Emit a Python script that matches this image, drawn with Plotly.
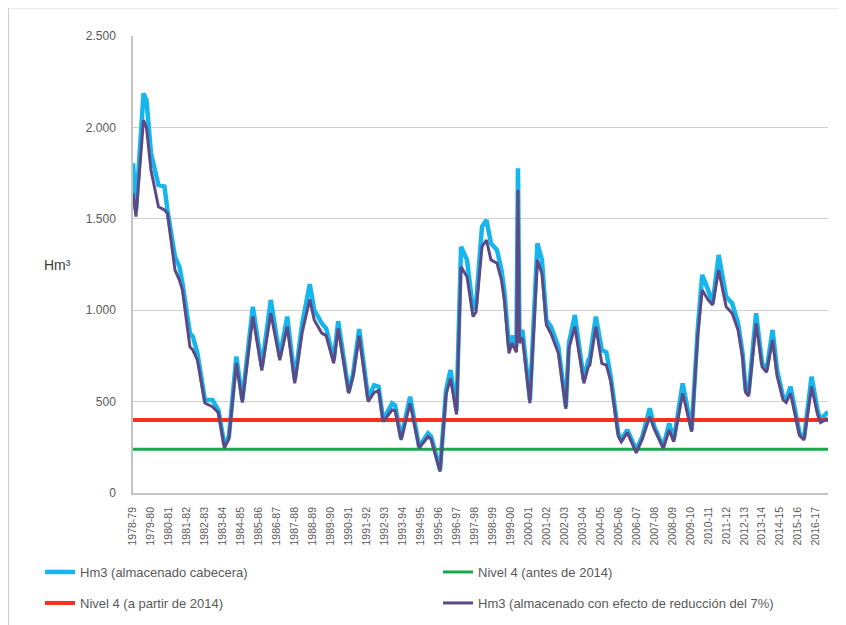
import plotly.graph_objects as go

# Hydrological-year labels (one per 12 months)
year_labels = ["1978-79", "1979-80", "1980-81", "1981-82", "1982-83", "1983-84", "1984-85",
               "1985-86", "1986-87", "1987-88", "1988-89", "1989-90", "1990-91", "1991-92",
               "1992-93", "1993-94", "1994-95", "1995-96", "1996-97", "1997-98", "1998-99",
               "1999-00", "2000-01", "2001-02", "2002-03", "2003-04", "2004-05", "2005-06",
               "2006-07", "2007-08", "2008-09", "2009-10", "2010-11", "2011-12", "2012-13",
               "2013-14", "2014-15", "2015-16", "2016-17"]

# Month index since start of 1978-79
months = [0, 2, 7, 9, 12, 17, 21, 23, 28, 31, 33, 38, 40, 43, 48, 53, 57, 61, 64, 69,
          73, 80, 86, 92, 98, 103, 108, 113, 118, 121, 126, 129, 134, 137, 144, 147, 151, 157, 161, 164,
          167, 173, 175, 179, 185, 191, 197, 199, 205, 209, 212, 216, 219, 223, 227, 229, 233, 236, 239, 243,
          246, 248, 251, 253, 256, 257, 258, 260, 265, 270, 273, 276, 279, 284, 289, 291, 295, 301, 304, 305,
          309, 313, 316, 319, 324, 326, 330, 336, 340, 345, 348, 354, 358, 361, 367, 373, 377, 380, 384, 387,
          391, 396, 400, 404, 407, 409, 411, 416, 420, 423, 427, 430, 434, 436, 439, 443, 445, 448, 453, 457,
          459, 464]

# Hm3 (almacenado cabecera)
hm3_cabecera = [1804, 1548, 2186, 2150, 1860, 1685, 1676, 1548, 1293, 1238, 1148, 875, 855, 766, 509, 509, 454, 265, 308, 746,
                509, 1019, 691, 1056, 746, 965, 618, 929, 1143, 1001, 929, 900, 727, 940, 554, 655, 897, 518, 590, 582,
                399, 491, 480, 299, 527, 253, 327, 310, 126, 563, 673, 450, 1347, 1275, 1001, 1030, 1457, 1493, 1366, 1329,
                1220, 1100, 800, 860, 800, 1776, 855, 892, 509, 1366, 1275, 946, 910, 800, 472, 819, 974, 618, 727, 740,
                965, 782, 770, 636, 327, 290, 345, 235, 308, 463, 363, 253, 381, 290, 600, 345, 892, 1193, 1110, 1038,
                1302, 1074, 1038, 928, 764, 563, 545, 983, 709, 673, 892, 673, 527, 509, 582, 418, 327, 299, 636, 454,
                399, 445]

# Hm3 (almacenado con efecto de reducción del 7%)
hm3_reduccion = [1641, 1512, 2040, 2000, 1767, 1566, 1548, 1530, 1220, 1165, 1110, 800, 782, 727, 492, 472, 440, 246, 295, 711,
                 495, 965, 670, 984, 727, 910, 600, 880, 1060, 946, 875, 860, 709, 900, 545, 640, 860, 500, 550, 560,
                 390, 454, 450, 290, 491, 246, 308, 295, 117, 540, 627, 430, 1238, 1183, 965, 990, 1347, 1384, 1275, 1257,
                 1165, 1050, 764, 820, 770, 1658, 820, 850, 491, 1275, 1200, 919, 873, 764, 460, 790, 910, 600, 691, 700,
                 910, 709, 700, 610, 310, 280, 330, 220, 295, 417, 350, 245, 345, 280, 545, 336, 860, 1110, 1056, 1029,
                 1220, 1019, 983, 890, 740, 550, 530, 928, 690, 660, 837, 640, 510, 495, 545, 400, 315, 290, 582, 430,
                 385, 409]

nivel4_antes_2014 = 240
nivel4_desde_2014 = 400

tick_months = [12 * i for i in range(len(year_labels))]
x_span = [months[0], months[-1]]

FONT = "Liberation Sans, Arial, sans-serif"

fig = go.Figure()
fig.add_trace(go.Scatter(x=months, y=hm3_cabecera, mode="lines", name="Hm3 (almacenado cabecera)",
                         line=dict(color="#17b5ee", width=4.5), legend="legend", legendrank=1))
fig.add_trace(go.Scatter(x=x_span, y=[nivel4_antes_2014] * 2, mode="lines", name="Nivel 4 (antes de 2014)",
                         line=dict(color="#1aa84a", width=3), legend="legend", legendrank=2))
fig.add_trace(go.Scatter(x=x_span, y=[nivel4_desde_2014] * 2, mode="lines", name="Nivel 4 (a partir de 2014)",
                         line=dict(color="#f7301e", width=4), legend="legend2", legendrank=3))
fig.add_trace(go.Scatter(x=months, y=hm3_reduccion, mode="lines",
                         name="Hm3 (almacenado con efecto de reducción del 7%)",
                         line=dict(color="#5c4a86", width=3), legend="legend2", legendrank=4))

legend_common = dict(orientation="h", x=(40 - 133) / 695, xanchor="left", yanchor="middle",
                     entrywidth=353, entrywidthmode="pixels",
                     font=dict(family=FONT, size=13, color="#595959"),
                     bgcolor="rgba(0,0,0,0)", itemwidth=30)

# The page places the figure 8px in from the top-left corner
fig.update_layout(
    width=838, height=617,
    margin=dict(l=125, r=18, t=28, b=132, autoexpand=False),
    paper_bgcolor="white", plot_bgcolor="white",
    font=dict(family=FONT, color="#595959"),
    showlegend=True,
    legend=dict(y=(493 - 572) / 457, **legend_common),
    legend2=dict(y=(493 - 603) / 457, **legend_common),
    xaxis=dict(range=[0, 464], tickvals=tick_months, ticktext=year_labels, tickangle=-90,
               tickfont=dict(size=10.5, color="#595959"), showgrid=False, zeroline=False,
               showline=True, linecolor="#c4c4c4", linewidth=1.5, ticks="", ticklabelstandoff=8),
    yaxis=dict(range=[0, 2500], tickvals=[0, 500, 1000, 1500, 2000, 2500],
               ticktext=["0", "500", "1.000", "1.500", "2.000", "2.500"],
               tickfont=dict(size=12, color="#595959"), showgrid=True, gridcolor="#cfcfcf", gridwidth=1.2,
               zeroline=False, showline=True, linecolor="#c4c4c4", linewidth=1.5, ticks="",
               ticklabelstandoff=13),
    annotations=[dict(text="Hm³", xref="paper", yref="paper", x=(57 - 133) / 695, y=(493 - 265) / 457,
                      showarrow=False, xanchor="center", yanchor="middle",
                      font=dict(size=14, color="#3a3a3a", family=FONT))],
    shapes=[
        dict(type="line", xref="paper", yref="paper", x0=(8 - 133) / 695, x1=(8 - 133) / 695,
             y0=(493 - 8) / 457, y1=(493 - 625) / 457, line=dict(color="#bcbcbc", width=1.5)),
        dict(type="line", xref="paper", yref="paper", x0=(8 - 133) / 695, x1=(846 - 133) / 695,
             y0=(493 - 8) / 457, y1=(493 - 8) / 457, line=dict(color="#d6d6d6", width=1)),
    ],
)

fig.write_html("out.html")
